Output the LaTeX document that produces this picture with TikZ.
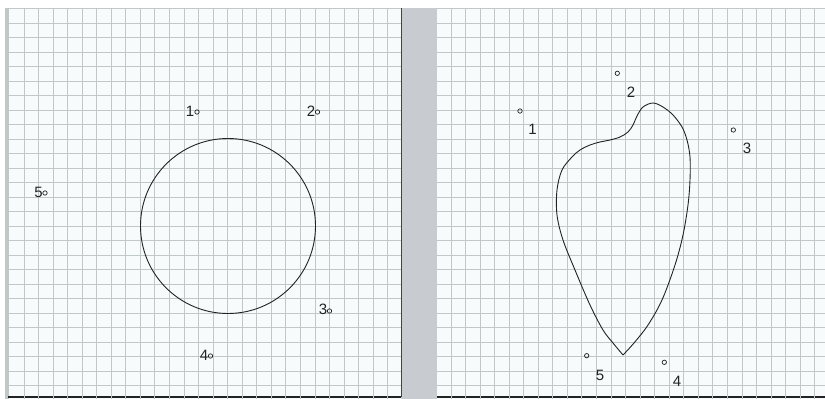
\documentclass[tikz,border=0pt]{standalone}
\usepackage{fontspec}
\setmainfont{Liberation Sans}
\definecolor{bgc}{RGB}{247,251,251}
\definecolor{gridc}{RGB}{192,200,200}
\definecolor{barc}{RGB}{200,203,207}
\definecolor{ink}{RGB}{35,35,35}
\begin{document}
\begin{tikzpicture}[x=1pt,y=-1pt,
  lbl/.style={font=\fontsize{15}{15}\selectfont, text=ink, inner sep=0pt},
  ptmark/.style={draw=ink, line width=0.7pt},
  gridline/.style={draw=gridc, line width=1pt},
  curve/.style={draw=ink, line width=0.9pt}]
\useasboundingbox (0,0) rectangle (825,399);
\fill[white] (0,0) rectangle (825,399);
\fill[bgc] (8,8) rectangle (401,399);
\fill[bgc] (437,8) rectangle (825,399);
\fill[barc] (401,8) rectangle (437,399);
\fill[gridc] (5,8) rectangle (8.5,399);
% dark edges
\draw[ink, line width=1.6pt] (8,397) -- (401,397);
\draw[ink, line width=1.6pt] (437,397) -- (825,397);
\draw[ink!85, line width=1.6pt] (401.5,8) -- (401.5,397);
% grid
\foreach \k in {0,...,26} {
  \draw[gridline] (8.5,{8.5+14.5*\k}) -- (400.5,{8.5+14.5*\k});
  \draw[gridline] (437,{8.5+14.5*\k}) -- (825,{8.5+14.5*\k});
}
\foreach \k in {0,...,25} {
  \draw[gridline] ({24+14.55*\k},8) -- ({24+14.55*\k},399);
  \draw[gridline] ({451+14.55*\k},8) -- ({451+14.55*\k},399);
}
% left panel
\draw[curve] (228,226) circle[radius=87.5pt];
\node[lbl] (l1) at (190,111) {1};
\node[lbl] (l2) at (311,111) {2};
\node[lbl] (l5) at (38.5,192.5) {5};
\node[lbl] (l3) at (323,309) {3};
\node[lbl] (l4) at (204,355) {4};
\draw[ptmark] (197,112) circle[radius=2.2pt];
\draw[ptmark] (317.5,112) circle[radius=2.2pt];
\draw[ptmark] (45,193) circle[radius=2.2pt];
\draw[ptmark] (329.5,311) circle[radius=2.2pt];
\draw[ptmark] (210.5,356) circle[radius=2.2pt];
% right panel
\draw[curve, line join=miter] plot[smooth, tension=0.55] coordinates {
 (623,355) (613,343) (603,330) (590,305) (575,270) (563,240) (557,215) (557,190)
 (562,170) (572,157) (580,150) (590,145) (600,142) (610,140) (620,137)
 (628,132) (633,125) (637,116) (643,107)
 (653,103) (663,107) (673,115) (682,127) (687,140) (690,157) (690,180)
 (688,205) (683,235) (675,265) (662,300) (648,325) (634,343) (623,355)};
\draw[ptmark] (520,111) circle[radius=2.2pt];
\draw[ptmark] (617.3,73.3) circle[radius=2.2pt];
\draw[ptmark] (733.3,130) circle[radius=2.2pt];
\draw[ptmark] (586.7,355.7) circle[radius=2.2pt];
\draw[ptmark] (664.3,362.3) circle[radius=2.2pt];
\node[lbl] (r1) at (532.5,129) {1};
\node[lbl] (r2) at (631,92) {2};
\node[lbl] (r3) at (747,148) {3};
\node[lbl] (r5) at (600,375) {5};
\node[lbl] (r4) at (677,381) {4};
\end{tikzpicture}
\end{document}
